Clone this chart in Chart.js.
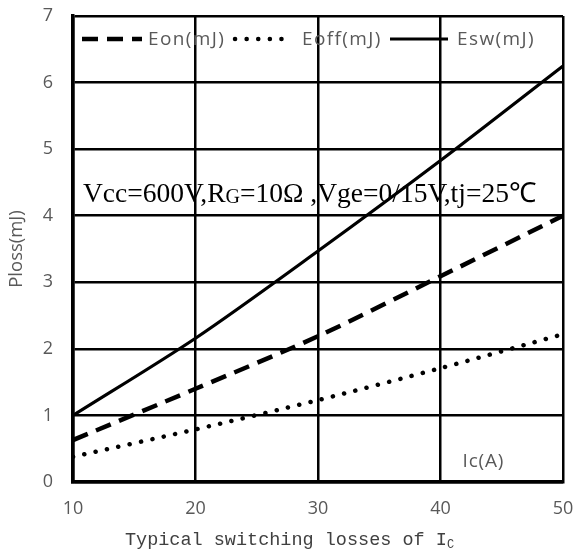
<!DOCTYPE html>
<html>
<head>
<meta charset="utf-8">
<script src="https://cdn.jsdelivr.net/npm/chart.js@4.4.0/dist/chart.umd.min.js"></script>
<style>
  html, body { margin: 0; padding: 0; background: #fff; }
  #wrap { width: 579px; height: 552px; position: relative; }
</style>
</head>
<body>
<div id="wrap"><canvas id="loss"></canvas></div>
<script>
const currents = [10, 20, 30, 40, 50]
const eon = [0.63, 1.40, 2.19, 3.09, 4.0]
const eoff = [0.38, 0.79, 1.23, 1.71, 2.22]
const esw = [1.0, 2.16, 3.47, 4.83, 6.25]
const yTicks = [0, 1, 2, 3, 4, 5, 6, 7]
const noteText = "Vcc=600V,R|G|=10Ω ,Vge=0/15V,tj=25℃"

const toPoints = (arr) => arr.map((v, i) => ({x: currents[i], y: v}))

// legend + condition text drawn inside the plot area
const insideText = {
    id: "insideText",
    afterDatasetsDraw(chart) {
        const ctx = chart.ctx
        const area = chart.chartArea
        const x = chart.scales.x, y = chart.scales.y
        ctx.save()
        const ly = area.top + 23
        ctx.font = "19px 'Open Sans', sans-serif"
        ctx.letterSpacing = "1.4px"
        ctx.textBaseline = "middle"
        const sampleX = [9, 162, 317]
        const sampleW = [60, 54, 58]
        const textX = [75, 229, 384]
        chart.data.datasets.forEach((ds, i) => {
            ctx.strokeStyle = "#000"
            ctx.lineWidth = ds.borderWidth
            ctx.lineCap = ds.borderCapStyle || "butt"
            ctx.setLineDash(ds.borderDash || [])
            ctx.beginPath()
            ctx.moveTo(area.left + sampleX[i], ly)
            ctx.lineTo(area.left + sampleX[i] + sampleW[i], ly)
            ctx.stroke()
            ctx.setLineDash([])
            ctx.fillStyle = "#595959"
            ctx.textAlign = "left"
            ctx.fillText(ds.label, area.left + textX[i], ly + 1)
        })
        // Ic(A)
        ctx.letterSpacing = "0.8px"
        ctx.fillText("Ic(A)", x.getPixelForValue(41.8), y.getPixelForValue(0.3))
        ctx.letterSpacing = "0px"
        // condition note, with subscript G
        const parts = noteText.split("|")
        let nx = area.left + 10
        const ny = y.getPixelForValue(4.2)
        ctx.fillStyle = "#000"
        ctx.textBaseline = "alphabetic"
        parts.forEach((p, i) => {
            if (i === 1) {
                ctx.font = "20px 'Liberation Serif', serif"
                ctx.fillText(p, nx, ny + 1)
            } else {
                ctx.font = "27.5px 'Liberation Serif', serif"
                ctx.fillText(p, nx, ny)
            }
            nx += ctx.measureText(p).width
        })
        ctx.restore()
    }
}

// x title with subscript C
const xTitle = {
    id: "xTitle",
    afterDraw(chart) {
        const ctx = chart.ctx
        ctx.save()
        ctx.fillStyle = "#404040"
        ctx.textBaseline = "alphabetic"
        ctx.font = "18.5px 'Liberation Mono', monospace"
        const main = "Typical switching losses of I"
        const w = ctx.measureText(main).width
        ctx.font = "12px 'Liberation Mono', monospace"
        const sw = ctx.measureText("C").width
        let sx = chart.width / 2 - (w + sw) / 2
        ctx.font = "18.5px 'Liberation Mono', monospace"
        ctx.fillText(main, sx, 545)
        ctx.font = "12px 'Liberation Mono', monospace"
        ctx.fillText("C", sx + w, 548)
        ctx.restore()
    }
}

new Chart(document.querySelector("#loss"), {
    type: "line",
    plugins: [insideText, xTitle],
    data: {
        datasets: [
            {label: "Eon(mJ)", data: toPoints(eon), borderColor: "#000", borderWidth: 4.5, borderDash: [16, 9], tension: 0.3},
            {label: "Eoff(mJ)", data: toPoints(eoff), borderColor: "#000", borderWidth: 4.5, borderDash: [0.1, 11.5], borderCapStyle: "round", tension: 0.3},
            {label: "Esw(mJ)", data: toPoints(esw), borderColor: "#000", borderWidth: 3.2, tension: 0.3},
        ],
    },
    options: {
        responsive: true,
        maintainAspectRatio: false,
        animation: false,
        layout: {padding: {top: 16, right: 16}},
        elements: {point: {radius: 0}},
        plugins: {legend: {display: false}, tooltip: {enabled: false}},
        scales: {
            x: {
                type: "linear",
                min: 10, max: 50,
                afterFit: (s) => { s.height = 70; s.paddingLeft = 0; s.paddingRight = 0 },
                grid: {color: "#000", lineWidth: 2.5, drawTicks: false},
                border: {color: "#000", width: 3.5},
                ticks: {stepSize: 10, color: "#595959", padding: 16, font: {size: 18, family: "'Open Sans', sans-serif"}},
            },
            y: {
                min: 0, max: 7,
                afterFit: (s) => { s.width = 73; s.paddingTop = 0; s.paddingBottom = 0 },
                afterBuildTicks: (s) => { s.ticks = yTicks.map(v => ({value: v})) },
                grid: {color: "#000", lineWidth: 2.5, drawTicks: false},
                border: {color: "#000", width: 3.5},
                ticks: {color: "#595959", padding: 20, font: {size: 18, family: "'Open Sans', sans-serif"}},
                title: {display: true, text: "Ploss(mJ)", color: "#595959", padding: {top: 6}, font: {size: 18.5, family: "'Open Sans', sans-serif"}},
            },
        },
    },
})
</script>
</body>
</html>
